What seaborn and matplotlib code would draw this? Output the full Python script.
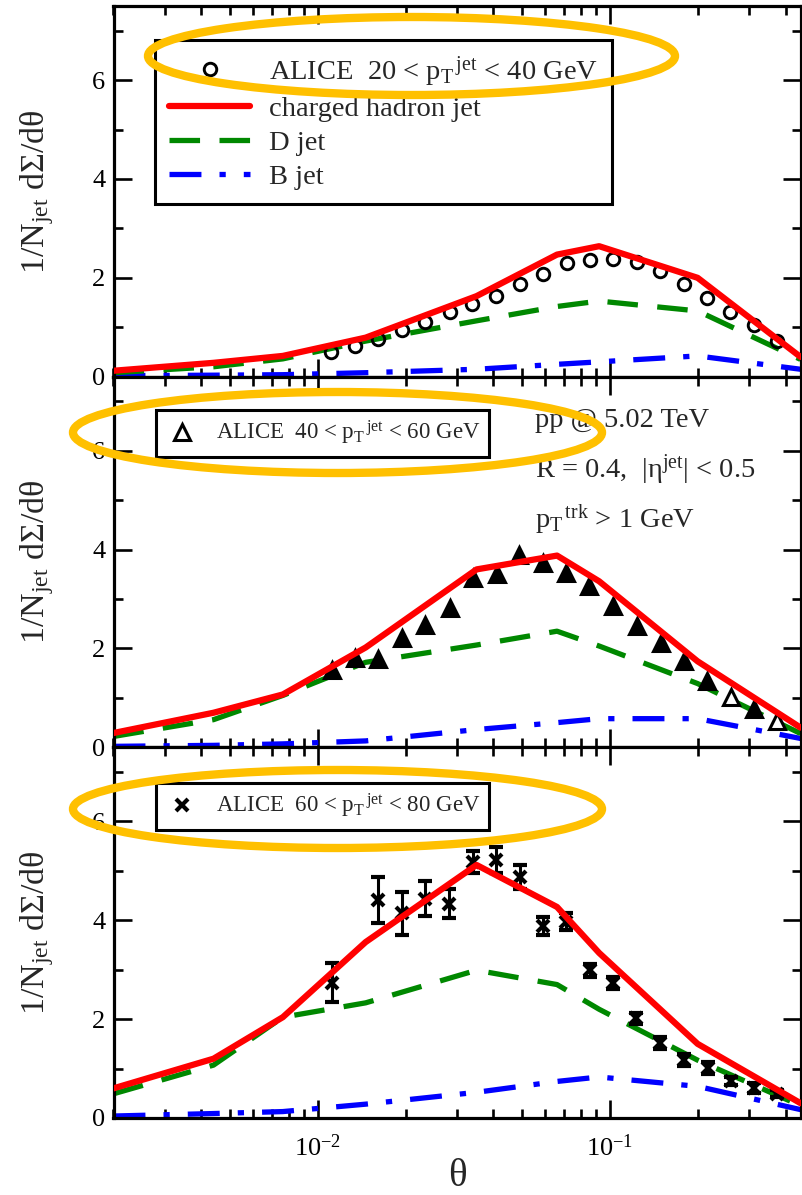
import numpy as np
import pandas as pd
import matplotlib
matplotlib.use('Agg')
import matplotlib.pyplot as plt
import seaborn as sns
from matplotlib.lines import Line2D
from matplotlib.patches import Ellipse
from matplotlib.ticker import MultipleLocator, LogLocator, NullFormatter

# theory curves: shared theta grid
theta_th = [0.002, 0.0044, 0.0076, 0.0146, 0.035, 0.066, 0.092, 0.2, 0.45]

# 20 < pT < 40
ch_20 = [0.12, 0.28, 0.42, 0.79, 1.63, 2.47, 2.64, 2.00, 0.40]
d_20 = [0.08, 0.20, 0.36, 0.72, 1.13, 1.42, 1.53, 1.33, 0.35]
b_20 = [0.02, 0.03, 0.04, 0.08, 0.15, 0.25, 0.30, 0.42, 0.15]

# 40 < pT < 60
ch_40 = [0.29, 0.70, 1.07, 2.02, 3.60, 3.88, 3.36, 1.74, 0.40]
d_40 = [0.22, 0.56, 1.05, 1.72, 2.07, 2.35, 2.05, 1.29, 0.28]
b_40 = [0.02, 0.04, 0.07, 0.13, 0.36, 0.50, 0.58, 0.58, 0.18]

# 60 < pT < 80
ch_60 = [0.60, 1.20, 2.04, 3.56, 5.12, 4.27, 3.34, 1.50, 0.30]
d_60 = [0.49, 1.07, 2.04, 2.33, 2.99, 2.70, 2.20, 1.17, 0.25]
b_60 = [0.04, 0.09, 0.13, 0.28, 0.52, 0.74, 0.83, 0.64, 0.17]

# ALICE data
theta_20 = [0.0111, 0.0134, 0.0161, 0.0194, 0.0234, 0.0283, 0.0338, 0.0409, 0.0492, 0.059,
            0.0713, 0.0858, 0.103, 0.124, 0.149, 0.180, 0.215, 0.259, 0.312, 0.373]
alice_20 = [0.49, 0.63, 0.76, 0.94, 1.11, 1.30, 1.48, 1.63, 1.87, 2.07,
            2.29, 2.37, 2.39, 2.33, 2.14, 1.87, 1.60, 1.31, 1.04, 0.73]

theta_40 = [0.0112, 0.0134, 0.0161, 0.0194, 0.0234, 0.0283, 0.0341, 0.041, 0.049, 0.059,
            0.071, 0.085, 0.103, 0.124, 0.150, 0.180, 0.216, 0.260, 0.312, 0.375]
alice_40 = [1.57, 1.81, 1.78, 2.21, 2.48, 2.82, 3.43, 3.50, 3.90, 3.73,
            3.53, 3.26, 2.85, 2.45, 2.11, 1.74, 1.34, 1.02, 0.78, 0.54]
open_40 = [False] * 17 + [True, False, True]

theta_60 = [0.0112, 0.0161, 0.0195, 0.0234, 0.0281, 0.0339, 0.0407, 0.0494, 0.059, 0.071,
            0.0857, 0.103, 0.123, 0.149, 0.179, 0.217, 0.260, 0.312, 0.373]
alice_60 = [2.74, 4.41, 4.14, 4.44, 4.34, 5.18, 5.22, 4.88, 3.88, 3.97,
            2.99, 2.74, 2.02, 1.52, 1.17, 1.02, 0.75, 0.60, 0.49]
err_60 = [0.39, 0.47, 0.43, 0.36, 0.30, 0.22, 0.27, 0.24, 0.18, 0.17,
          0.13, 0.12, 0.11, 0.12, 0.12, 0.12, 0.08, 0.10, 0.07]

sns.set_theme(style='ticks')
plt.rcParams['font.family'] = ['Liberation Serif', 'DejaVu Serif']
plt.rcParams['mathtext.fontset'] = 'custom'
plt.rcParams['mathtext.rm'] = 'Liberation Serif'
plt.rcParams['mathtext.it'] = 'Liberation Serif:italic'
plt.rcParams['lines.scale_dashes'] = False

RED, GREEN, BLUE = '#ff0000', '#008800', '#0000ff'
ORANGE = '#ffc000'
dash_d = (0, (22, 14))
dash_b = (0, (23, 13, 4.5, 13))

fig, axes = plt.subplots(3, 1, figsize=(8.02, 11.95), dpi=100, sharex=True)
fig.subplots_adjust(left=113.5 / 802, right=800.5 / 802, top=1 - 6 / 1195,
                    bottom=1 - 1118 / 1195, hspace=0)

curves = [(ch_20, d_20, b_20), (ch_40, d_40, b_40), (ch_60, d_60, b_60)]

for ax, (ch, dj, bj) in zip(axes, curves):
    df = pd.DataFrame({'theta': theta_th, 'ch': ch, 'd': dj, 'b': bj})
    sns.lineplot(data=df, x='theta', y='b', ax=ax, color=BLUE, lw=3.8,
                 linestyle=dash_b, errorbar=None, zorder=2)
    sns.lineplot(data=df, x='theta', y='d', ax=ax, color=GREEN, lw=3.8,
                 linestyle=dash_d, errorbar=None, zorder=2)
    sns.lineplot(data=df, x='theta', y='ch', ax=ax, color=RED, lw=4.5,
                 errorbar=None, zorder=4)

# data points
ax = axes[0]
ax.plot(theta_20, alice_20, 'o', ms=9, mfc='none', mec='black', mew=2.1, zorder=3)

ax = axes[1]
for t, v, o in zip(theta_40, alice_40, open_40):
    ax.plot(t, v, '^', ms=11, mfc='white' if o else 'black', mec='black',
            mew=2.2, zorder=3)

ax = axes[2]
ax.errorbar(theta_60, alice_60, yerr=err_60, fmt='x', color='black', ms=9, mew=3,
            elinewidth=2.2, capsize=4.7, capthick=2.6, zorder=3)

for ax in axes:
    ax.set_xscale('log')
    ax.set_xlim(0.002, 0.45)
    ax.set_ylim(0, 7.5)
    ax.yaxis.set_major_locator(MultipleLocator(2))
    ax.yaxis.set_minor_locator(MultipleLocator(1))
    ax.xaxis.set_major_locator(LogLocator(base=10, numticks=10))
    ax.xaxis.set_minor_locator(LogLocator(base=10, subs=np.arange(2, 10), numticks=20))
    ax.xaxis.set_minor_formatter(NullFormatter())
    ax.tick_params(which='both', direction='in', top=True, right=True,
                   width=1.9, colors='black', labelsize=19)
    ax.tick_params(which='major', length=13)
    ax.tick_params(which='minor', length=6.5)
    ax.tick_params(axis='y', pad=6)
    ax.tick_params(axis='x', pad=12)
    for s in ax.spines.values():
        s.set_linewidth(2.3)
        s.set_color('black')
    ax.set_xlabel('')
    ax.set_ylabel('1/N$_\\mathregular{jet}$ dΣ/dθ', fontsize=24.5)
    ax.yaxis.set_label_coords(-0.084, 0.5)

axes[2].set_xlabel('θ', fontsize=28)
axes[2].xaxis.set_label_coords(0.5, -0.108)

# legends
handles = [
    Line2D([], [], ls='none', marker='o', ms=9, mfc='none', mec='black', mew=2.1),
    Line2D([], [], color=RED, lw=4.5),
    Line2D([], [], color=GREEN, lw=3.8, ls=dash_d),
    Line2D([], [], color=BLUE, lw=3.8, ls=dash_b),
]
labels = ['ALICE  20 < p$_\\mathregular{T}$$^\\mathregular{\\,jet}$ < 40 GeV',
          'charged hadron jet', 'D jet', 'B jet']
leg = axes[0].legend(handles, labels, loc='upper left',
                     bbox_to_anchor=(155 / 802, 1 - 40 / 1195), bbox_transform=fig.transFigure,
                     fontsize=20.5, frameon=True, fancybox=False, framealpha=1,
                     edgecolor='black', borderaxespad=0, borderpad=0.5,
                     handlelength=2.85, handletextpad=0.65, labelspacing=0.27)
leg.get_frame().set_linewidth(2.2)

leg_40 = axes[1].legend([Line2D([], [], ls='none', marker='^', ms=11, mfc='none',
                                mec='black', mew=2.2)],
                        ['ALICE  40 < p$_\\mathregular{T}$$^\\mathregular{\\,jet}$ < 60 GeV'],
                        loc='upper left', bbox_to_anchor=(156 / 802, 1 - 410 / 1195),
                        bbox_transform=fig.transFigure, fontsize=16.5, frameon=True,
                        fancybox=False, framealpha=1, edgecolor='black', borderaxespad=0,
                        borderpad=0.4, handlelength=1.5, handletextpad=0.7)
leg_40.get_frame().set_linewidth(2.2)

leg_60 = axes[2].legend([Line2D([], [], ls='none', marker='x', ms=9, mec='black', mew=3)],
                        ['ALICE  60 < p$_\\mathregular{T}$$^\\mathregular{\\,jet}$ < 80 GeV'],
                        loc='upper left', bbox_to_anchor=(156 / 802, 1 - 783 / 1195),
                        bbox_transform=fig.transFigure, fontsize=16.5, frameon=True,
                        fancybox=False, framealpha=1, edgecolor='black', borderaxespad=0,
                        borderpad=0.4, handlelength=1.5, handletextpad=0.7)
leg_60.get_frame().set_linewidth(2.2)

# info text in middle panel
fig.text(535 / 802, 1 - 427 / 1195, 'pp @ 5.02 TeV', fontsize=20.5, va='baseline')
fig.text(535 / 802, 1 - 478 / 1195, 'R = 0.4,  |η$^\\mathregular{jet}$| < 0.5',
         fontsize=20.5, va='baseline')
fig.text(535 / 802, 1 - 527 / 1195, 'p$_\\mathregular{T}$$^\\mathregular{\\,trk}$ > 1 GeV',
         fontsize=20.5, va='baseline')

# highlight ellipses
for cx, cy, w, h in [(411.5, 56, 527, 78), (337.5, 432.5, 529, 81), (337.5, 809, 529, 78)]:
    fig.add_artist(Ellipse((cx / 802, 1 - cy / 1195), w / 802, h / 1195,
                           transform=fig.transFigure, fill=False, ec=ORANGE,
                           lw=6, zorder=10))

plt.savefig('out.png', dpi=100)
